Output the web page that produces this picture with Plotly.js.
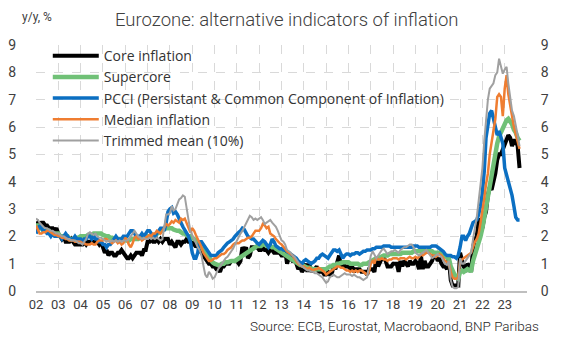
<!DOCTYPE html>
<html>
<head>
<meta charset="utf-8">
<script src="https://cdn.plot.ly/plotly-3.0.1.min.js"></script>
<style>html,body{margin:0;padding:0;background:#fff;}#chart{width:566px;height:355px;}</style>
</head>
<body>
<div id="chart"></div>
<script>
// Monthly data, Jan 2002 - Sep 2023 (y/y, %)
const startYear = 2002;
const yearLabels = ['02','03','04','05','06','07','08','09','10','11','12','13','14','15','16','17','18','19','20','21','22','23'];

const coreInflation = [
2.4,2.5,2.4,2.5,2.5,2.4,2.4,2.3,2.3,2.3,2.2,2.3,
2.1,2.0,1.9,2.0,1.8,1.8,1.8,1.9,1.8,1.7,1.7,1.7,
1.7,1.7,1.8,1.7,1.8,1.8,1.8,1.8,1.8,1.8,1.7,1.8,
1.6,1.4,1.5,1.3,1.4,1.4,1.3,1.3,1.4,1.4,1.5,1.4,
1.3,1.2,1.2,1.3,1.2,1.3,1.4,1.4,1.4,1.3,1.5,1.5,
1.8,1.8,1.9,1.8,1.8,1.9,1.8,1.9,1.8,1.9,1.9,1.9,
1.7,1.8,1.7,1.6,1.8,1.8,1.7,1.8,1.8,1.9,1.8,1.8,
1.7,1.8,1.6,1.7,1.5,1.4,1.3,1.2,1.1,1.0,1.0,0.9,
0.9,0.8,0.8,0.7,0.9,0.9,1.0,1.0,1.0,1.1,1.1,1.1,
1.1,1.0,1.1,1.6,1.5,1.6,1.2,1.3,1.6,1.6,1.6,1.6,
1.5,1.5,1.6,1.5,1.5,1.4,1.5,1.5,1.4,1.4,1.4,1.4,
1.3,1.3,1.5,1.0,1.2,1.2,1.1,1.1,1.0,0.8,0.9,0.7,
0.8,1.0,0.7,1.0,0.7,0.8,0.8,0.9,0.7,0.7,0.7,0.6,
0.6,0.7,0.6,0.6,0.9,0.8,1.0,1.3,0.9,1.1,0.9,0.9,
0.9,0.8,0.9,0.7,0.8,0.8,0.8,0.7,0.7,0.7,0.6,0.8,
0.8,0.8,0.7,1.2,0.9,1.1,1.2,1.2,1.1,0.9,0.9,0.9,
1.0,1.0,1.0,0.7,1.1,0.9,1.1,1.0,0.9,1.1,1.0,1.0,
1.1,1.0,0.8,1.3,0.8,1.1,0.9,0.9,1.0,1.1,1.3,1.3,
1.1,1.2,1.0,0.9,0.9,0.8,1.2,0.4,0.2,0.2,0.2,0.2,
1.4,1.1,0.9,0.7,1.0,0.9,0.7,1.6,1.9,2.0,2.6,2.6,
2.3,2.7,2.9,3.5,3.8,3.7,4.0,4.3,4.8,5.0,5.0,5.2,
5.3,5.6,5.7,5.6,5.3,5.5,5.5,5.3,4.5];

const supercore = [
2.4,2.4,2.3,2.3,2.2,2.2,2.2,2.2,2.1,2.1,2.1,2.1,
2.1,2.0,2.0,2.0,2.0,2.0,1.9,1.9,1.9,1.95,1.95,1.95,
2.0,2.0,2.0,2.0,2.05,2.05,2.05,2.1,2.1,2.1,2.1,2.1,
2.05,2.0,2.0,2.0,1.95,1.95,1.9,1.9,1.9,1.9,1.9,1.9,
1.85,1.85,1.85,1.9,1.9,1.9,1.9,1.9,1.95,1.95,1.95,2.0,
2.0,2.0,2.0,2.0,2.05,2.1,2.1,2.15,2.2,2.25,2.3,2.3,
2.3,2.3,2.25,2.2,2.2,2.2,2.15,2.1,2.1,2.05,2.0,2.0,
1.95,1.9,1.85,1.8,1.7,1.6,1.5,1.4,1.3,1.2,1.1,1.05,
1.0,0.95,0.95,0.95,1.0,1.0,1.05,1.05,1.1,1.1,1.1,1.1,
1.15,1.2,1.2,1.25,1.3,1.35,1.4,1.45,1.5,1.55,1.6,1.65,
1.65,1.65,1.7,1.7,1.65,1.65,1.65,1.6,1.6,1.55,1.5,1.45,
1.4,1.35,1.3,1.25,1.2,1.2,1.15,1.1,1.05,1.0,0.95,0.95,
0.9,0.9,0.85,0.85,0.8,0.8,0.8,0.8,0.8,0.8,0.8,0.8,
0.8,0.85,0.9,0.9,0.95,0.95,1.0,1.0,1.05,1.05,1.05,1.05,
1.05,1.0,1.0,1.0,1.0,1.0,0.95,0.95,1.0,1.0,1.0,1.05,
1.1,1.1,1.15,1.2,1.2,1.25,1.3,1.3,1.3,1.3,1.35,1.35,
1.35,1.35,1.35,1.35,1.35,1.4,1.4,1.4,1.4,1.4,1.4,1.45,
1.45,1.45,1.45,1.45,1.45,1.45,1.45,1.45,1.45,1.45,1.4,1.4,
1.4,1.4,1.35,1.3,1.25,1.2,1.2,0.9,0.7,0.6,0.5,0.45,
0.7,0.75,0.7,0.75,0.8,0.75,0.75,1.1,1.3,1.5,1.8,2.0,
2.3,2.7,3.1,3.6,4.0,4.4,4.8,5.1,5.4,5.65,5.8,6.0,
6.1,6.25,6.3,6.2,6.1,5.9,5.8,5.6,5.5];

const pcci = [
2.1,2.3,2.4,2.3,2.2,2.2,2.1,2.1,2.0,2.1,2.0,2.0,
2.0,2.0,1.9,2.0,2.1,2.0,1.9,1.9,1.9,2.0,1.9,1.9,
1.9,1.8,1.9,1.9,2.0,2.0,1.9,2.0,1.9,1.9,1.8,1.8,
1.7,1.7,1.6,1.7,1.7,1.8,1.9,2.0,1.9,1.9,1.9,2.0,
2.0,2.0,2.1,2.2,2.2,2.1,2.0,2.0,2.0,2.1,2.0,2.1,
2.2,2.2,2.1,2.0,2.0,2.1,2.2,2.3,2.3,2.2,2.5,2.9,
3.0,3.05,2.85,2.9,2.8,2.6,2.5,2.35,2.25,2.1,2.0,1.8,
1.4,1.2,1.2,1.4,1.8,1.8,1.7,1.6,1.45,1.35,1.3,1.3,
1.3,1.3,1.4,1.45,1.5,1.6,1.7,1.75,1.8,1.85,1.9,2.0,
2.1,2.15,2.2,2.3,2.25,2.1,2.0,1.95,1.9,1.9,1.8,1.75,
1.7,1.8,1.85,1.8,1.7,1.6,1.7,1.9,1.8,1.65,1.6,1.55,
1.55,1.5,1.5,1.45,1.4,1.35,1.3,1.25,1.2,1.1,1.05,1.0,
1.1,1.15,1.1,1.05,1.0,1.05,1.1,1.2,1.2,1.3,1.35,1.3,
1.25,1.2,1.3,1.4,1.5,1.5,1.45,1.5,1.3,1.2,1.3,1.35,
1.35,1.3,1.35,1.35,1.4,1.4,1.35,1.4,1.45,1.45,1.5,1.5,
1.5,1.55,1.55,1.6,1.6,1.6,1.6,1.65,1.65,1.65,1.65,1.6,
1.6,1.6,1.6,1.6,1.6,1.6,1.6,1.6,1.6,1.6,1.6,1.65,
1.65,1.65,1.6,1.6,1.6,1.6,1.6,1.6,1.6,1.65,1.65,1.65,
1.6,1.55,1.5,1.45,1.35,1.3,1.3,1.3,1.25,1.25,1.2,1.3,
1.6,2.0,2.0,1.85,2.0,2.1,2.3,2.5,2.55,2.6,2.8,3.1,
3.6,4.4,5.6,6.1,6.5,6.6,6.3,5.9,5.7,5.85,5.65,5.4,
4.5,4.25,4.0,3.85,3.5,3.1,2.7,2.6,2.6];

const medianInflation = [
2.4,2.2,2.1,2.1,2.15,2.15,2.2,2.2,2.15,2.1,2.05,2.05,
2.0,2.0,1.95,1.95,1.9,1.9,1.85,1.85,1.85,1.8,1.8,1.8,
1.8,1.75,1.75,1.7,1.7,1.7,1.75,1.7,1.7,1.8,1.85,1.85,
1.85,1.9,1.9,1.85,1.8,1.75,1.8,1.85,1.75,1.8,1.7,1.75,
1.95,1.85,1.7,1.6,1.75,1.95,2.0,1.9,1.95,1.85,1.9,1.95,
2.0,2.05,2.0,2.1,2.1,2.2,2.15,2.1,2.2,2.3,2.45,2.4,
2.45,2.55,2.5,2.6,2.55,2.5,2.65,2.6,2.65,2.5,2.3,2.15,
2.3,2.2,2.05,1.9,1.8,1.6,1.4,1.3,1.2,1.1,1.1,1.15,
1.2,1.2,1.25,1.3,1.35,1.35,1.4,1.5,1.55,1.6,1.7,1.75,
1.75,1.75,1.8,1.85,1.85,1.9,1.95,1.95,2.0,2.1,2.2,2.2,
2.2,2.3,2.45,2.4,2.3,2.35,2.1,2.05,2.0,1.9,1.8,1.75,
1.7,1.6,1.55,1.45,1.4,1.35,1.3,1.2,1.1,1.0,0.95,0.9,
0.9,0.85,0.8,0.85,0.8,0.75,0.8,0.8,0.85,0.8,0.75,0.7,
0.6,0.65,0.7,0.75,0.8,0.85,0.9,0.9,0.85,0.85,0.8,0.75,
0.75,0.7,0.75,0.7,0.75,0.7,0.75,0.75,0.7,0.65,0.6,0.7,
1.0,1.1,1.0,1.25,1.15,1.15,1.2,1.15,1.15,1.1,1.15,1.15,
1.2,1.2,1.2,1.15,1.2,1.2,1.2,1.15,1.2,1.25,1.2,1.2,
1.25,1.2,1.25,1.35,1.3,1.35,1.4,1.4,1.35,1.3,1.3,1.25,
1.3,1.35,1.3,1.2,1.1,1.05,1.0,0.7,0.5,0.45,0.45,0.5,
1.1,1.15,1.2,1.25,1.3,1.35,1.4,1.6,1.8,1.9,2.1,2.5,
2.9,3.4,3.9,4.3,5.0,5.5,5.9,6.3,7.1,7.2,7.1,6.4,
7.4,7.9,7.2,6.7,6.4,6.0,5.7,5.4,5.2];

const trimmedMean = [
2.65,2.6,2.5,2.4,2.35,2.3,2.3,2.25,2.2,2.2,2.15,2.1,
2.1,2.05,2.0,2.0,1.95,1.9,1.9,1.85,1.85,1.85,1.8,1.75,
1.75,1.7,1.8,1.9,2.1,2.15,2.1,2.05,2.1,2.0,1.95,1.95,
1.9,1.85,1.8,1.85,1.8,1.85,1.8,1.85,1.8,1.85,1.8,1.85,
1.85,1.85,1.9,2.0,2.1,2.2,2.1,2.0,1.95,1.9,1.95,1.9,
1.9,1.95,1.9,1.95,1.9,1.95,1.9,1.85,1.9,2.3,2.8,2.8,
2.85,3.1,2.95,3.0,3.2,3.35,3.4,3.5,3.45,3.1,2.6,2.2,
2.05,1.85,1.7,1.6,1.5,1.3,0.95,0.6,0.5,0.7,0.6,0.45,
0.5,0.7,0.8,0.9,1.0,1.1,1.2,1.25,1.35,1.45,1.55,1.7,
1.85,1.95,2.1,2.2,2.35,2.45,2.6,2.75,2.7,2.6,2.65,2.6,
2.65,2.7,2.6,2.45,2.5,2.55,2.6,2.5,2.4,2.35,2.2,2.0,
1.85,1.8,1.7,1.5,1.45,1.4,1.3,1.25,1.15,1.05,0.95,0.9,
0.85,0.8,0.75,0.75,0.7,0.7,0.65,0.65,0.6,0.55,0.5,0.4,
0.3,0.35,0.5,0.55,0.6,0.55,0.5,0.5,0.55,0.6,0.65,0.6,
0.6,0.6,0.55,0.6,0.55,0.5,0.5,0.45,0.4,0.45,0.5,0.9,
1.3,1.45,1.3,1.2,1.3,1.4,1.5,1.55,1.45,1.35,1.4,1.45,
1.45,1.5,1.45,1.4,1.5,1.55,1.6,1.6,1.65,1.7,1.7,1.6,
1.4,1.35,1.3,1.35,1.4,1.45,1.5,1.4,1.3,1.2,1.25,1.3,
1.35,1.3,1.25,1.1,1.0,0.95,1.1,0.4,0.15,0.1,0.1,0.15,
1.2,1.0,1.0,1.1,1.2,1.3,1.4,1.9,2.3,2.7,3.3,3.9,
4.5,5.5,6.3,7.0,7.4,7.5,7.6,7.9,8.0,8.5,8.2,7.95,
8.1,8.2,7.6,7.0,6.6,6.4,6.1,5.7,5.3];

function monthDates(n){
  const out=[];
  for(let i=0;i<n;i++){
    const y=startYear+Math.floor(i/12), m=(i%12)+1;
    out.push(y+'-'+(m<10?'0':'')+m+'-01');
  }
  return out;
}

const series = [
  {name:'Core inflation', y:coreInflation, color:'#000000', width:4},
  {name:'Supercore', y:supercore, color:'#70c177', width:4.5},
  {name:'PCCI (Persistant & Common Component of Inflation)', y:pcci, color:'#0b6fc2', width:3.5},
  {name:'Median inflation', y:medianInflation, color:'#ef7d31', width:2.5},
  {name:'Trimmed mean (10%)', y:trimmedMean, color:'#a0a0a0', width:2}
];

const traces = series.map(s => ({
  type:'scatter', mode:'lines', name:s.name,
  x:monthDates(s.y.length), y:s.y,
  line:{color:s.color, width:s.width},
  hoverinfo:'skip'
}));
// invisible trace to show the right-hand axis
traces.push({type:'scatter', mode:'lines', x:monthDates(1), y:[null], yaxis:'y2', showlegend:false, hoverinfo:'skip'});

const tickvals=[], ticktext=[];
for(let i=0;i<=yearLabels.length;i++){
  tickvals.push((startYear+i)+'-01-01');
  ticktext.push(i<yearLabels.length?yearLabels[i]:'');
}

const fontFam = 'Roboto, "Open Sans", sans-serif';
const gridCol = '#d9d9d9';

const layout = {
  width:566, height:355,
  margin:{l:36, r:39, t:45, b:64, autoexpand:false},
  paper_bgcolor:'#ffffff', plot_bgcolor:'#ffffff',
  showlegend:true,
  font:{family:fontFam, color:'#404040', size:13},
  xaxis:{
    type:'date', range:['2002-01-01','2024-01-01'],
    tickmode:'array', tickvals:tickvals, ticktext:ticktext, tickangle:0,
    showgrid:true, gridcolor:gridCol, griddash:'dash', gridwidth:1,
    showline:true, linecolor:'#bfbfbf', linewidth:2,
    ticks:'', zeroline:false, automargin:false,
    tickfont:{family:fontFam, size:13, color:'#404040'}
  },
  yaxis:{
    range:[0,9], dtick:1, tick0:0, automargin:false,
    showgrid:true, gridcolor:gridCol, griddash:'dash', gridwidth:1,
    zeroline:false, showline:false,
    ticks:'outside', ticklen:16, tickcolor:'rgba(0,0,0,0)',
    tickfont:{family:fontFam, size:14, color:'#404040'}
  },
  yaxis2:{
    range:[0,9], dtick:1, tick0:0, overlaying:'y', side:'right', automargin:false,
    showgrid:false, zeroline:false, showline:false,
    ticks:'outside', ticklen:10, tickcolor:'rgba(0,0,0,0)',
    tickfont:{family:fontFam, size:14, color:'#404040'}
  },
  legend:{
    x:0.024, y:1.02, xanchor:'left', yanchor:'top',
    bgcolor:'rgba(0,0,0,0)', borderwidth:0, itemwidth:46,
    font:{family:'"Open Sans", Roboto, sans-serif', size:14, color:'#333333'},
    tracegroupgap:0
  },
  annotations:[
    {text:'Eurozone: alternative indicators of inflation', xref:'paper', yref:'paper', x:0.512, y:1, yshift:25,
     xanchor:'center', yanchor:'middle', showarrow:false, font:{family:fontFam, size:18.5, color:'#404040', weight:300}},
    {text:'y/y, %', xref:'paper', yref:'paper', x:0, xshift:-16, y:1, yshift:28, xanchor:'left', yanchor:'middle',
     showarrow:false, font:{family:fontFam, size:12, color:'#404040'}},
    {text:'Source: ECB, Eurostat, Macrobaond, BNP Paribas', xref:'paper', yref:'paper', x:1, xshift:14, y:0, yshift:-35,
     xanchor:'right', yanchor:'middle', showarrow:false, font:{family:fontFam, size:13.5, color:'#262626', weight:300}}
  ]
};

Plotly.newPlot('chart', traces, layout, {staticPlot:true, displayModeBar:false});
</script>
</body>
</html>
